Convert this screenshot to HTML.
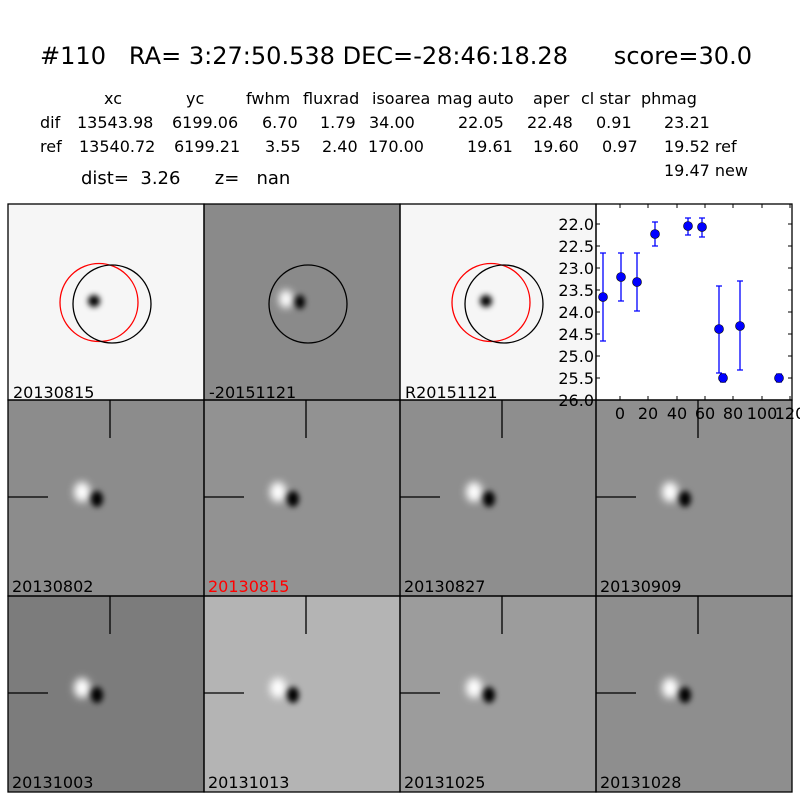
<!DOCTYPE html>
<html><head><meta charset="utf-8"><style>
html,body{margin:0;padding:0;background:#fff;}
svg{display:block;}
text{font-family:"DejaVu Sans","Liberation Sans",sans-serif;}
</style></head><body>
<svg width="800" height="800" viewBox="0 0 800 800" xmlns="http://www.w3.org/2000/svg">
<defs>
<filter id="bl" x="-100%" y="-100%" width="300%" height="300%"><feGaussianBlur stdDeviation="4"/></filter>
<filter id="bl2" x="-100%" y="-100%" width="300%" height="300%"><feGaussianBlur stdDeviation="3"/></filter>
<g id="blob">
<ellipse cx="74" cy="92" rx="8" ry="10" fill="#fff" filter="url(#bl)"/>
<ellipse cx="89" cy="99" rx="6" ry="8" fill="#000" filter="url(#bl2)"/>
<line x1="102" y1="0" x2="102" y2="38" stroke="#000" stroke-width="1.3"/>
<line x1="0" y1="97" x2="40" y2="97" stroke="#000" stroke-width="1.3"/>
</g>
</defs>
<text x="40" y="64" font-size="24" textLength="712" lengthAdjust="spacingAndGlyphs" xml:space="preserve">#110   RA= 3:27:50.538 DEC=-28:46:18.28      score=30.0</text>
<g font-size="16">
<text x="104" y="104">xc</text><text x="186" y="104">yc</text><text x="246" y="104">fwhm</text><text x="303" y="104">fluxrad</text><text x="372" y="104">isoarea</text><text x="437" y="104">mag auto</text><text x="533" y="104">aper</text><text x="581" y="104">cl star</text><text x="641" y="104">phmag</text>
<text x="40" y="128">dif</text><text x="77" y="128">13543.98</text><text x="172" y="128">6199.06</text><text x="262" y="128">6.70</text><text x="320" y="128">1.79</text><text x="369" y="128">34.00</text><text x="458" y="128">22.05</text><text x="527" y="128">22.48</text><text x="596" y="128">0.91</text><text x="664" y="128">23.21</text>
<text x="40" y="152">ref</text><text x="79" y="152">13540.72</text><text x="174" y="152">6199.21</text><text x="265" y="152">3.55</text><text x="322" y="152">2.40</text><text x="368" y="152">170.00</text><text x="467" y="152">19.61</text><text x="533" y="152">19.60</text><text x="602" y="152">0.97</text><text x="664" y="152">19.52 ref</text>
<text x="664" y="176">19.47 new</text>
</g>
<text x="81" y="184" font-size="18" xml:space="preserve">dist=  3.26      z=   nan</text>

<!-- row 1 -->
<rect x="8" y="204" width="196" height="196" fill="#f6f6f6"/>
<ellipse cx="94" cy="301" rx="6" ry="6" fill="#000" filter="url(#bl2)"/>
<circle cx="99" cy="302.5" r="39" fill="none" stroke="#f00" stroke-width="1.3"/>
<circle cx="112" cy="304" r="39" fill="none" stroke="#000" stroke-width="1.3"/>
<rect x="204" y="204" width="196" height="196" fill="#8a8a8a"/>
<ellipse cx="286" cy="299" rx="7" ry="9" fill="#fff" filter="url(#bl)"/>
<ellipse cx="300" cy="302" rx="5" ry="7" fill="#000" filter="url(#bl2)"/>
<circle cx="308" cy="304" r="39" fill="none" stroke="#000" stroke-width="1.3"/>
<rect x="400" y="204" width="196" height="196" fill="#f6f6f6"/>
<ellipse cx="486" cy="301" rx="6" ry="6" fill="#000" filter="url(#bl2)"/>
<circle cx="491" cy="302.5" r="39" fill="none" stroke="#f00" stroke-width="1.3"/>
<circle cx="504" cy="304" r="39" fill="none" stroke="#000" stroke-width="1.3"/>
<g font-size="16">
<text x="13" y="398">20130815</text><text x="209" y="398">-20151121</text><text x="405" y="398">R20151121</text>
</g>

<!-- rows 2,3 -->
<rect x="8" y="400" width="196" height="196" fill="#8c8c8c"/>
<rect x="204" y="400" width="196" height="196" fill="#929292"/>
<rect x="400" y="400" width="196" height="196" fill="#8e8e8e"/>
<rect x="596" y="400" width="196" height="196" fill="#8f8f8f"/>
<rect x="8" y="596" width="196" height="196" fill="#7c7c7c"/>
<rect x="204" y="596" width="196" height="196" fill="#b4b4b4"/>
<rect x="400" y="596" width="196" height="196" fill="#9c9c9c"/>
<rect x="596" y="596" width="196" height="196" fill="#8e8e8e"/>
<use href="#blob" x="8" y="400"/><use href="#blob" x="204" y="400"/><use href="#blob" x="400" y="400"/><use href="#blob" x="596" y="400"/>
<use href="#blob" x="8" y="596"/><use href="#blob" x="204" y="596"/><use href="#blob" x="400" y="596"/><use href="#blob" x="596" y="596"/>
<g font-size="16">
<text x="12" y="592">20130802</text><text x="208" y="592" fill="#f00">20130815</text><text x="404" y="592">20130827</text><text x="600" y="592">20130909</text>
<text x="12" y="788">20131003</text><text x="208" y="788">20131013</text><text x="404" y="788">20131025</text><text x="600" y="788">20131028</text>
</g>

<!-- plot -->
<rect x="596" y="204" width="196" height="196" fill="#fff"/>
<g stroke="#000" stroke-width="1">
<line x1="596" y1="224" x2="600" y2="224"/><line x1="596" y1="246" x2="600" y2="246"/><line x1="596" y1="268" x2="600" y2="268"/><line x1="596" y1="290" x2="600" y2="290"/><line x1="596" y1="312" x2="600" y2="312"/><line x1="596" y1="334" x2="600" y2="334"/><line x1="596" y1="356" x2="600" y2="356"/><line x1="596" y1="378" x2="600" y2="378"/>
<line x1="792" y1="224" x2="788" y2="224"/><line x1="792" y1="246" x2="788" y2="246"/><line x1="792" y1="268" x2="788" y2="268"/><line x1="792" y1="290" x2="788" y2="290"/><line x1="792" y1="312" x2="788" y2="312"/><line x1="792" y1="334" x2="788" y2="334"/><line x1="792" y1="356" x2="788" y2="356"/><line x1="792" y1="378" x2="788" y2="378"/>
<line x1="620" y1="400" x2="620" y2="396"/><line x1="648" y1="400" x2="648" y2="396"/><line x1="677" y1="400" x2="677" y2="396"/><line x1="705" y1="400" x2="705" y2="396"/><line x1="733" y1="400" x2="733" y2="396"/><line x1="762" y1="400" x2="762" y2="396"/><line x1="790" y1="400" x2="790" y2="396"/>
<line x1="620" y1="204" x2="620" y2="208"/><line x1="648" y1="204" x2="648" y2="208"/><line x1="677" y1="204" x2="677" y2="208"/><line x1="705" y1="204" x2="705" y2="208"/><line x1="733" y1="204" x2="733" y2="208"/><line x1="762" y1="204" x2="762" y2="208"/><line x1="790" y1="204" x2="790" y2="208"/>
</g>
<g font-size="16" text-anchor="end">
<text x="594" y="230">22.0</text><text x="594" y="252">22.5</text><text x="594" y="274">23.0</text><text x="594" y="296">23.5</text><text x="594" y="318">24.0</text><text x="594" y="340">24.5</text><text x="594" y="362">25.0</text><text x="594" y="384">25.5</text><text x="594" y="406">26.0</text>
</g>
<g font-size="16" text-anchor="middle">
<text x="620" y="419">0</text><text x="648" y="419">20</text><text x="677" y="419">40</text><text x="705" y="419">60</text><text x="733" y="419">80</text><text x="762" y="419">100</text><text x="790" y="419">120</text>
</g>
<g stroke="#00f" stroke-width="1.3">
<path d="M603 253V341M600 253h6M600 341h6"/>
<path d="M621 253V301M618 253h6M618 301h6"/>
<path d="M637 253V311M634 253h6M634 311h6"/>
<path d="M655 222V246M652 222h6M652 246h6"/>
<path d="M688 218V235M685 218h6M685 235h6"/>
<path d="M702 218V237M699 218h6M699 237h6"/>
<path d="M719 286V373M716 286h6M716 373h6"/>
<path d="M723 374V382M720 374h6M720 382h6"/>
<path d="M740 281V370M737 281h6M737 370h6"/>
<path d="M779 374V382M776 374h6M776 382h6"/>
</g>
<g fill="#00f" stroke="#000" stroke-width="0.6">
<circle cx="603" cy="297" r="4.5"/><circle cx="621" cy="277" r="4.5"/><circle cx="637" cy="282" r="4.5"/><circle cx="655" cy="234" r="4.5"/><circle cx="688" cy="226" r="4.5"/><circle cx="702" cy="227" r="4.5"/><circle cx="719" cy="329" r="4.5"/><circle cx="723" cy="378" r="4.5"/><circle cx="740" cy="326" r="4.5"/><circle cx="779" cy="378" r="4.5"/>
</g>

<!-- frames -->
<g fill="none" stroke="#000" stroke-width="1.3">
<rect x="8" y="204" width="196" height="196"/><rect x="204" y="204" width="196" height="196"/><rect x="400" y="204" width="196" height="196"/><rect x="596" y="204" width="196" height="196"/>
<rect x="8" y="400" width="196" height="196"/><rect x="204" y="400" width="196" height="196"/><rect x="400" y="400" width="196" height="196"/><rect x="596" y="400" width="196" height="196"/>
<rect x="8" y="596" width="196" height="196"/><rect x="204" y="596" width="196" height="196"/><rect x="400" y="596" width="196" height="196"/><rect x="596" y="596" width="196" height="196"/>
</g>
</svg>
</body></html>
